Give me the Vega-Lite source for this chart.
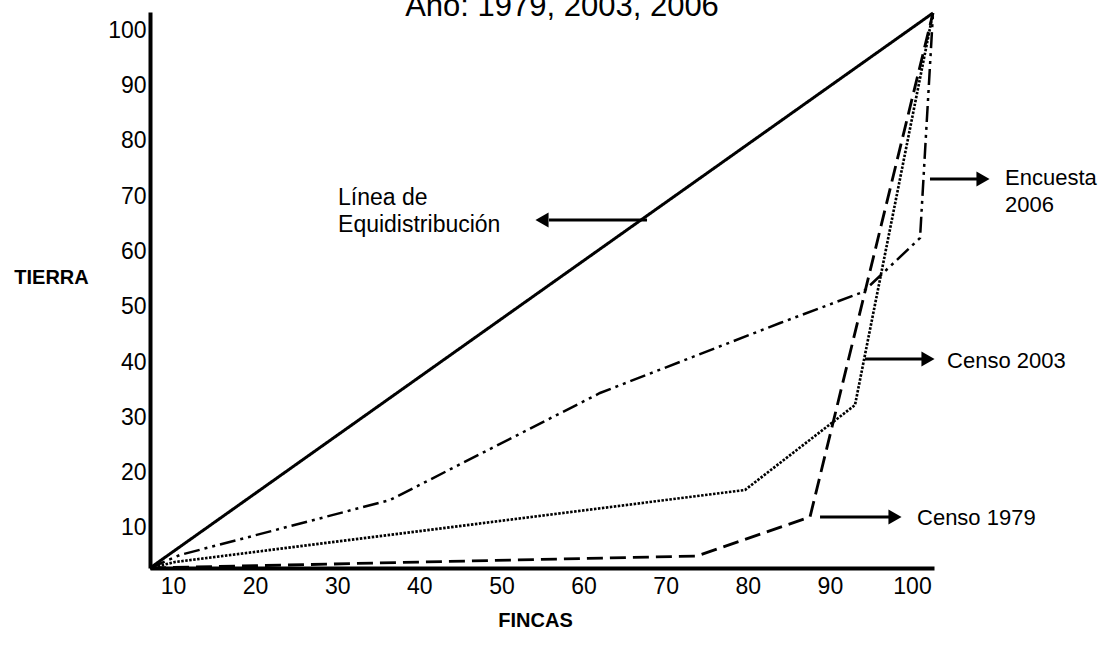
{
  "$schema": "https://vega.github.io/schema/vega-lite/v6.json",
  "width": 784,
  "height": 556,
  "autosize": {"type": "none"},
  "padding": {"left": 150, "top": 12, "right": 165, "bottom": 87},
  "background": "white",
  "title": {
    "text": "Año: 1979, 2003, 2006",
    "font": "Liberation Sans",
    "fontSize": 31,
    "fontWeight": "normal",
    "color": "black",
    "anchor": "middle",
    "frame": "group",
    "baseline": "alphabetic",
    "orient": "top",
    "offset": -40,
    "dx": 20
  },
  "config": {"view": {"stroke": null}, "font": "Liberation Sans"},
  "datasets": {
    "curvas": [
      {"serie": "Equidistribución", "orden": 1, "x": 7.2, "y": 2.77},
      {"serie": "Equidistribución", "orden": 2, "x": 102.56, "y": 103.08},
      {"serie": "Censo 1979", "orden": 1, "x": 7.2, "y": 2.77},
      {"serie": "Censo 1979", "orden": 2, "x": 73.82, "y": 4.94},
      {"serie": "Censo 1979", "orden": 3, "x": 87.58, "y": 11.99},
      {"serie": "Censo 1979", "orden": 4, "x": 102.56, "y": 103.08},
      {"serie": "Censo 2003", "orden": 1, "x": 7.2, "y": 2.77},
      {"serie": "Censo 2003", "orden": 2, "x": 10.24, "y": 3.85},
      {"serie": "Censo 2003", "orden": 3, "x": 79.66, "y": 16.87},
      {"serie": "Censo 2003", "orden": 4, "x": 93.06, "y": 32.23},
      {"serie": "Censo 2003", "orden": 5, "x": 102.56, "y": 103.08},
      {"serie": "Encuesta 2006", "orden": 1, "x": 7.2, "y": 2.77},
      {"serie": "Encuesta 2006", "orden": 2, "x": 10.85, "y": 5.12},
      {"serie": "Encuesta 2006", "orden": 3, "x": 36.43, "y": 15.06},
      {"serie": "Encuesta 2006", "orden": 4, "x": 62.0, "y": 34.4},
      {"serie": "Encuesta 2006", "orden": 5, "x": 83.93, "y": 47.05},
      {"serie": "Encuesta 2006", "orden": 6, "x": 94.03, "y": 52.65},
      {"serie": "Encuesta 2006", "orden": 7, "x": 100.98, "y": 62.41},
      {"serie": "Encuesta 2006", "orden": 8, "x": 102.56, "y": 103.08}
    ],
    "flechas": [
      {"nombre": "Equidistribución", "x": 67.73, "x2": 55.79, "y": 65.67},
      {"nombre": "Encuesta 2006", "x": 102.19, "x2": 107.92, "y": 73.08},
      {"nombre": "Censo 2003", "x": 94.28, "x2": 101.22, "y": 40.54},
      {"nombre": "Censo 1979", "x": 88.8, "x2": 97.2, "y": 11.99}
    ],
    "puntas": [
      {"nombre": "Equidistribución", "dir": "izq", "x": 54.94, "y": 65.67},
      {"nombre": "Encuesta 2006", "dir": "der", "x": 108.65, "y": 73.08},
      {"nombre": "Censo 2003", "dir": "der", "x": 101.95, "y": 40.54},
      {"nombre": "Censo 1979", "dir": "der", "x": 97.93, "y": 11.99}
    ],
    "etiquetas": [
      {"lado": "izq", "texto": "Línea de\nEquidistribución", "x": 30.1, "y": 68.38},
      {"lado": "der", "texto": "Encuesta\n2006", "x": 111.33, "y": 71.99},
      {"lado": "der", "texto": "Censo 2003", "x": 104.27, "y": 38.92},
      {"lado": "der", "texto": "Censo 1979", "x": 100.61, "y": 10.54}
    ]
  },
  "encoding": {
    "x": {
      "field": "x",
      "type": "quantitative",
      "scale": {"domain": [7.2, 102.68], "nice": false, "zero": false},
      "axis": {
        "title": "FINCAS",
        "values": [10, 20, 30, 40, 50, 60, 70, 80, 90, 100],
        "grid": false,
        "ticks": false,
        "tickSize": 0,
        "domainWidth": 4,
        "domainColor": "black",
        "labelFont": "Liberation Sans",
        "labelFontSize": 23,
        "labelColor": "black",
        "labelPadding": 7,
        "labelFlush": false,
        "labelOverlap": false,
        "titleFont": "Liberation Sans",
        "titleFontSize": 20,
        "titleFontWeight": "bold",
        "titleColor": "black",
        "titleX": 385,
        "titleY": 52,
        "titleAlign": "center",
        "titleBaseline": "middle"
      }
    },
    "y": {
      "field": "y",
      "type": "quantitative",
      "scale": {"domain": [2.77, 103.26], "nice": false, "zero": false},
      "axis": {
        "title": "TIERRA",
        "values": [10, 20, 30, 40, 50, 60, 70, 80, 90, 100],
        "grid": false,
        "ticks": false,
        "tickSize": 0,
        "domainWidth": 4,
        "domainColor": "black",
        "labelFont": "Liberation Sans",
        "labelFontSize": 23,
        "labelColor": "black",
        "labelPadding": 4,
        "labelFlush": false,
        "labelOverlap": false,
        "titleFont": "Liberation Sans",
        "titleFontSize": 20,
        "titleFontWeight": "bold",
        "titleColor": "black",
        "titleAngle": 0,
        "titleX": -99,
        "titleY": 265,
        "titleAlign": "center",
        "titleBaseline": "middle"
      }
    }
  },
  "layer": [
    {
      "data": {"name": "curvas"},
      "mark": {"type": "line", "color": "black", "strokeCap": "butt", "strokeJoin": "miter"},
      "encoding": {
        "detail": {"field": "serie", "type": "nominal"},
        "order": {"field": "orden", "type": "quantitative"},
        "strokeDash": {
          "field": "serie",
          "type": "nominal",
          "scale": {
            "domain": ["Equidistribución", "Censo 1979", "Censo 2003", "Encuesta 2006"],
            "range": [[1, 0], [16, 7], [2.5, 1.5], [16, 5, 3, 5, 3, 5]]
          },
          "legend": null
        },
        "strokeWidth": {
          "field": "serie",
          "type": "nominal",
          "scale": {
            "domain": ["Equidistribución", "Censo 1979", "Censo 2003", "Encuesta 2006"],
            "range": [3, 2.5, 3, 2.5]
          },
          "legend": null
        }
      }
    },
    {
      "data": {"name": "flechas"},
      "mark": {"type": "rule", "color": "black", "strokeWidth": 3},
      "encoding": {"x2": {"field": "x2"}}
    },
    {
      "data": {"name": "puntas"},
      "mark": {"type": "point", "filled": true, "color": "black", "opacity": 1, "size": 230},
      "encoding": {
        "shape": {
          "field": "dir",
          "type": "nominal",
          "scale": {"domain": ["izq", "der"], "range": ["triangle-left", "triangle-right"]},
          "legend": null
        }
      }
    },
    {
      "data": {"name": "etiquetas"},
      "transform": [{"filter": "datum.lado == 'izq'"}],
      "mark": {"type": "text", "align": "left", "baseline": "alphabetic", "lineBreak": "\n", "lineHeight": 27, "font": "Liberation Sans", "fontSize": 23, "color": "black"},
      "encoding": {"text": {"field": "texto"}}
    },
    {
      "data": {"name": "etiquetas"},
      "transform": [{"filter": "datum.lado == 'der'"}],
      "mark": {"type": "text", "align": "left", "baseline": "alphabetic", "lineBreak": "\n", "lineHeight": 27, "font": "Liberation Sans", "fontSize": 22, "color": "black"},
      "encoding": {"text": {"field": "texto"}}
    }
  ]
}
